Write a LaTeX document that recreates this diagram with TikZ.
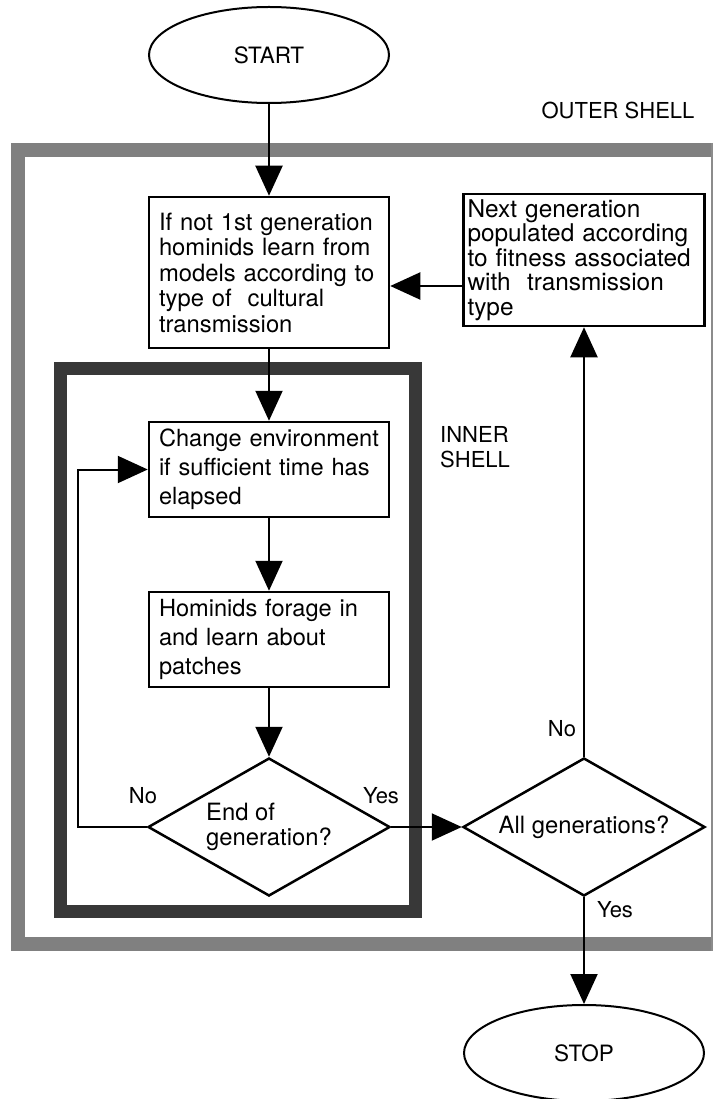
\documentclass[tikz,border=0pt]{standalone}
\usepackage{fontspec}
\setmainfont{TeX Gyre Heros}
\usetikzlibrary{shapes.geometric,arrows.meta}
\begin{document}
\begin{tikzpicture}[x=1pt,y=-1pt,line join=miter,>={Triangle[length=30pt,width=27pt]},font=\fontsize{23.8}{25.5}\selectfont]
    \tikzset{stage/.style={draw,line width=2.5pt,align=left,text width=220pt,inner xsep=10pt,inner ysep=0pt,minimum width=240pt},
        query/.style={draw,diamond,line width=2.5pt,align=left,aspect=1.75,minimum width=242pt,minimum height=138pt,inner sep=0pt},
        terminal/.style={draw,ellipse,line width=2pt,minimum width=240pt,minimum height=96pt,inner sep=0pt,font=\fontsize{22.5}{24}\selectfont},
        flow/.style={->,line width=2pt},
        tag/.style={font=\fontsize{22}{25}\selectfont,inner sep=0pt}}
    \def \colA{269}
    \def \colB{584}
    \useasboundingbox (0,0) rectangle (714,1099);
    % the two shells
    \draw[line width=14pt,black!50] (712,150) -- (17.5,150) -- (17.5,943.5) -- (712,943.5);
    \draw[line width=1.2pt,black!45] (712,143) -- (712,950.5);
    \draw[line width=13pt,black!78] (60.5,368.5) rectangle (415.5,911.5);
    \node[tag] (outer) at (618,110) {OUTER SHELL};
    \node[tag,align=left,anchor=north west] (inner) at (440,426) {INNER\\SHELL};
    % boxes
    \node[terminal] (start) at (\colA,55) {START};
    \node[stage,minimum height=151pt] (learn) at (\colA,272.5) {If not 1st generation\\hominids learn from\\models according to\\type of~ cultural\\transmission};
    \node[stage,minimum height=132pt,minimum width=241pt,text width=233pt,inner xsep=4pt,font=\fontsize{24.4}{24.5}\selectfont] (next) at (\colB,260) {Next generation\\populated according\\to fitness associated\\with~ transmission\\type};
    \node[stage,minimum height=95pt,font=\fontsize{23.6}{29}\selectfont] (change) at (\colA,469.5) {Change environment\\if sufficient time has\\elapsed};
    \node[stage,minimum height=95pt,font=\fontsize{23.6}{29}\selectfont] (forage) at (\colA,639.5) {Hominids forage in\\and learn about\\patches};
    \node[query] (end) at (\colA,827) {End of\\generation?};
    \node[query] (all) at (\colB,827) {All generations?};
    \node[terminal] (stop) at (\colB,1053) {STOP};
    % labels
    \node[tag] (no1) at (143,796) {No};
    \node[tag] (yes1) at (381,796) {Yes};
    \node[tag] (no2) at (562,729) {No};
    \node[tag] (yes2) at (615,910) {Yes};
    % connectors
    \coordinate (loop) at (78,470);
    \path ([yshift=-26pt]next.west) coordinate (back);
    \draw[flow] (start) -- (learn);
    \draw[flow] (learn) -- (change);
    \draw[flow] (change) -- (forage);
    \draw[flow] (forage) -- (end);
    \draw[flow] (end) -- (all);
    \draw[flow] (end.west) -- (end.west -| loop) |- (change.west);
    \draw[flow] (all) -- (next);
    \draw[flow] (all) -- (stop);
    \draw[flow] (back) -- (back -| learn.east);
\end{tikzpicture}
\end{document}
